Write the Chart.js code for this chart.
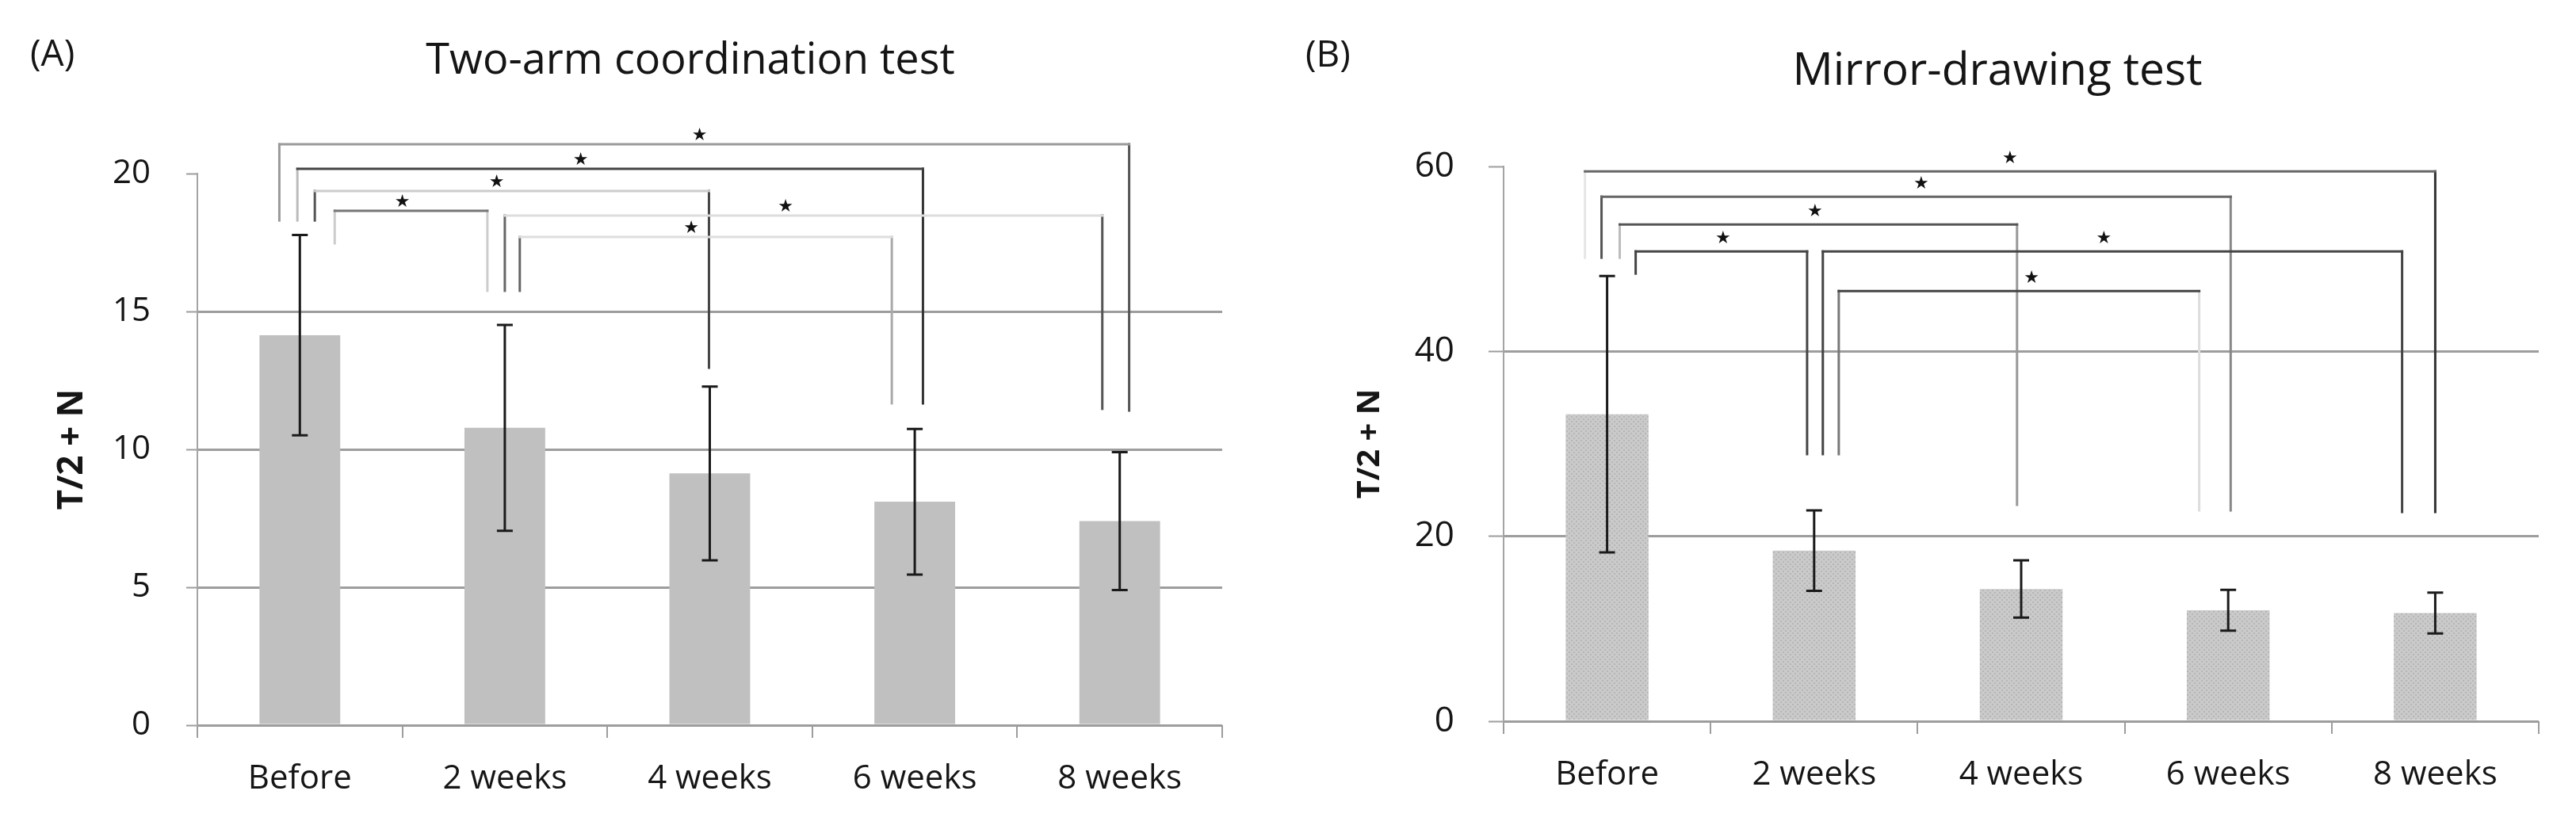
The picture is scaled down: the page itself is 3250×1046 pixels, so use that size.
<!DOCTYPE html>
<html lang="en">
<head>
<meta charset="UTF-8">
<title>Two-arm coordination and mirror-drawing tests</title>
<style>
  body { margin: 0; background: #fff; }
  #wrap { position: relative; width: 3250px; height: 1046px; }
  canvas { position: absolute; top: 0; }
  #chartA { left: 0; }
  #chartB { left: 1625px; }
</style>
</head>
<body>
<div id="wrap">
  <canvas id="chartA" width="1625" height="1046"></canvas>
  <canvas id="chartB" width="1625" height="1046"></canvas>
</div>
<script src="https://cdn.jsdelivr.net/npm/chart.js"></script>
<script>
const categories = ['Before', '2 weeks', '4 weeks', '6 weeks', '8 weeks'];

// (A) two-arm coordination test: mean and SD of T/2 + N
const twoArmMean = [14.14, 10.78, 9.13, 8.10, 7.40];
const twoArmSD = [3.63, 3.73, 3.15, 2.64, 2.50];

// (B) mirror-drawing test
const mirrorMean = [33.2, 18.45, 14.3, 12.0, 11.7];
const mirrorSD = [14.95, 4.35, 3.1, 2.2, 2.2];

// significant differences (category index pairs), one bracket + star each
const twoArmPairs = [[0, 4], [0, 3], [0, 2], [0, 1], [1, 4], [1, 3]];
const mirrorPairs = [[0, 4], [0, 3], [0, 2], [0, 1], [1, 4], [1, 3]];

// bracket drawing: leg offsets (in categories), bar level, leg ends (in axis units), star spot, colours
const twoArmBracketLayout = [
  [-0.10, 0.046, 21.06, 18.30, 11.41, 1.95, '#9a9a9a', '#9a9a9a', '#555'],
  [-0.012, 0.04, 20.17, 18.30, 11.67, 1.37, '#444', '#bbb', '#333'],
  [0.073, -0.004, 19.37, 18.30, 12.96, 0.96, '#ccc', '#555', '#444'],
  [0.17, -0.085, 18.65, 17.47, 15.75, 0.50, '#777', '#ccc', '#ccc'],
  [0.0, -0.085, 18.48, 15.75, 11.47, 2.37, '#ddd', '#666', '#555'],
  [0.073, -0.112, 17.70, 15.75, 11.67, 1.91, '#ddd', '#666', '#aaa']
];
const mirrorBracketLayout = [
  [-0.107, 0.0, 59.47, 50.13, 22.62, 1.946, '#666', '#e6e6e6', '#333'],
  [-0.027, 0.012, 56.73, 50.13, 22.79, 1.517, '#666', '#555', '#888'],
  [0.061, -0.02, 53.73, 50.13, 23.39, 1.004, '#555', '#bbb', '#999'],
  [0.138, -0.034, 50.81, 48.41, 28.88, 0.56, '#444', '#444', '#444'],
  [0.042, -0.16, 50.81, 28.88, 22.62, 2.40, '#444', '#444', '#444'],
  [0.119, -0.14, 46.53, 28.88, 22.79, 2.05, '#444', '#777', '#ddd']
];

const FONT = '"Open Sans", "Noto Sans", sans-serif';
const INK = '#151515';
const GRID = '#9d9d9d';

const errorBars = {
  id: 'errorBars',
  afterDatasetsDraw(chart, args, opts) {
    const { ctx, scales: { x, y } } = chart;
    const means = chart.data.datasets[0].data;
    ctx.save();
    ctx.strokeStyle = opts.color;
    ctx.lineWidth = opts.width;
    means.forEach((m, i) => {
      const px = x.getPixelForValue(i);
      const top = y.getPixelForValue(m + opts.sd[i]);
      const bot = y.getPixelForValue(m - opts.sd[i]);
      ctx.beginPath();
      ctx.moveTo(px, top); ctx.lineTo(px, bot);
      ctx.moveTo(px - opts.cap, top); ctx.lineTo(px + opts.cap, top);
      ctx.moveTo(px - opts.cap, bot); ctx.lineTo(px + opts.cap, bot);
      ctx.stroke();
    });
    ctx.restore();
  }
};

const sigBrackets = {
  id: 'sigBrackets',
  afterDatasetsDraw(chart, args, opts) {
    const { ctx, scales: { x, y } } = chart;
    const step = x.getPixelForValue(1) - x.getPixelForValue(0);
    const xAt = v => x.getPixelForValue(0) + v * step;
    const seg = (x1, y1, x2, y2, c) => {
      ctx.strokeStyle = c;
      ctx.beginPath(); ctx.moveTo(x1, y1); ctx.lineTo(x2, y2); ctx.stroke();
    };
    ctx.save();
    ctx.lineWidth = 3;
    ctx.lineCap = 'square';
    opts.pairs.forEach(([a, b], k) => {
      const [dl, dr, level, endL, endR, starAt, cH, cL, cR] = opts.layout[k];
      const xl = xAt(a + dl), xr = xAt(b + dr), yl = y.getPixelForValue(level);
      seg(xl, yl, xl, y.getPixelForValue(endL), cL);
      seg(xr, yl, xr, y.getPixelForValue(endR), cR);
      seg(xl, yl, xr, yl, cH);
      ctx.fillStyle = '#111';
      ctx.font = opts.starSize + 'px "DejaVu Sans"';
      ctx.textAlign = 'center';
      ctx.textBaseline = 'middle';
      ctx.fillText('★', xAt(starAt), yl - opts.starLift);
    });
    ctx.restore();
  }
};

const headings = {
  id: 'headings',
  afterDraw(chart, args, opts) {
    const ctx = chart.ctx;
    ctx.save();
    ctx.fillStyle = INK;
    ctx.textBaseline = 'alphabetic';
    ctx.textAlign = 'left';
    ctx.font = '46px ' + FONT;
    ctx.fillText(opts.panel, opts.panelX, opts.panelY);
    ctx.textAlign = 'center';
    ctx.font = opts.titleSize + 'px ' + FONT;
    ctx.fillText(opts.title, opts.titleX, opts.titleY);
    ctx.restore();
  }
};

function dotPattern() {
  const c = document.createElement('canvas');
  c.width = 6; c.height = 6;
  const g = c.getContext('2d');
  g.fillStyle = '#cacaca';
  g.fillRect(0, 0, 6, 6);
  g.fillStyle = '#b6b6b6';
  g.fillRect(0, 0, 2, 2);
  g.fillRect(3, 3, 2, 2);
  return g.createPattern(c, 'repeat');
}

function makeChart(id, cfg) {
  return new Chart(document.getElementById(id), {
    type: 'bar',
    data: {
      labels: categories,
      datasets: [{
        data: cfg.means,
        backgroundColor: cfg.barColor,
        borderWidth: 0,
        barPercentage: cfg.barPct,
        categoryPercentage: 1
      }]
    },
    options: {
      responsive: false,
      animation: false,
      devicePixelRatio: 1,
      layout: { padding: { top: cfg.top, right: cfg.right, left: 0, bottom: 0 } },
      plugins: {
        legend: { display: false },
        tooltip: { enabled: false },
        errorBars: { sd: cfg.sd, color: '#1a1a1a', width: 3, cap: 10 },
        sigBrackets: { pairs: cfg.pairs, layout: cfg.layout, starSize: cfg.starSize, starLift: cfg.starLift },
        headings: cfg.headings
      },
      scales: {
        x: {
          ticks: { color: INK, padding: 27, font: { family: FONT, size: 42 } },
          grid: { drawOnChartArea: false, drawTicks: true, tickLength: 16, color: GRID, lineWidth: 2 },
          border: { display: false },
          afterFit: s => { s.height = 1046 - cfg.bottom; }
        },
        y: {
          min: 0,
          max: cfg.max,
          ticks: { stepSize: cfg.step, color: INK, padding: cfg.tickPad, font: { family: FONT, size: cfg.tickSize } },
          grid: {
            color: c => (c.tick && c.tick.value === cfg.max) ? 'rgba(0,0,0,0)' : GRID,
            lineWidth: 3,
            tickLength: cfg.tickLen,
            tickColor: GRID,
            tickWidth: 2
          },
          border: { display: true, color: '#a4a4a4', width: 2 },
          title: {
            display: true,
            text: 'T/2 + N',
            color: INK,
            font: { family: FONT, size: cfg.yTitleSize, weight: 'bold' },
            padding: { top: cfg.yTitlePad, bottom: 0 }
          },
          afterFit: s => { s.width = cfg.left; }
        }
      }
    },
    plugins: [errorBars, sigBrackets, headings]
  });
}

makeChart('chartA', {
  means: twoArmMean, sd: twoArmSD, pairs: twoArmPairs, layout: twoArmBracketLayout,
  barColor: '#c0c0c0', barPct: 0.394,
  max: 20, step: 5,
  top: 219, bottom: 915, left: 249, right: 1625 - 1542,
  tickPad: 45, tickLen: 14, tickSize: 42,
  yTitleSize: 44, yTitlePad: 65,
  starSize: 22, starLift: 11,
  headings: { panel: '(A)', panelX: 38, panelY: 83, title: 'Two-arm coordination test', titleSize: 54, titleX: 871, titleY: 93 }
});

makeChart('chartB', {
  means: mirrorMean, sd: mirrorSD, pairs: mirrorPairs, layout: mirrorBracketLayout,
  barColor: dotPattern(), barPct: 0.40,
  max: 60, step: 20,
  top: 210, bottom: 910, left: 272, right: 1625 - 1578,
  tickPad: 43, tickLen: 19, tickSize: 44,
  yTitleSize: 40, yTitlePad: 80,
  starSize: 22, starLift: 16,
  headings: { panel: '(B)', panelX: 22, panelY: 84, title: 'Mirror-drawing test', titleSize: 57, titleX: 895, titleY: 107 }
});
</script>
</body>
</html>
